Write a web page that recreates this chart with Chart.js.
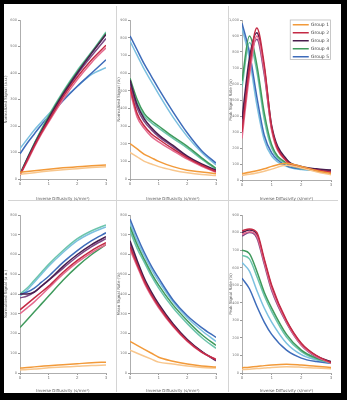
<!DOCTYPE html>
<html><head><meta charset="utf-8">
<script src="https://cdn.jsdelivr.net/npm/chart.js@4/dist/chart.umd.min.js"></script>
<style>
html,body{margin:0;padding:0;background:#000;width:347px;height:400px;overflow:hidden}
#frame{position:absolute;left:4px;top:4px;width:337px;height:389px;background:#fff}
.cell{position:absolute}
.vsep{position:absolute;width:1px;background:#d4d4d4}
.hsep{position:absolute;height:1px;background:#d4d4d4}
</style></head><body>
<div id="frame"></div>
<div class="vsep" style="left:116px;top:6px;height:386px"></div>
<div class="vsep" style="left:228px;top:6px;height:386px"></div>
<div class="hsep" style="left:8px;top:200px;width:330px"></div>
<div class="cell" style="left:4px;top:4px"><canvas id="c1" width="113" height="197"></canvas></div>
<div class="cell" style="left:117px;top:4px"><canvas id="c2" width="112" height="197"></canvas></div>
<div class="cell" style="left:229px;top:4px"><canvas id="c3" width="112" height="197"></canvas></div>
<div class="cell" style="left:4px;top:201px"><canvas id="c4" width="113" height="192"></canvas></div>
<div class="cell" style="left:117px;top:201px"><canvas id="c5" width="112" height="192"></canvas></div>
<div class="cell" style="left:229px;top:201px"><canvas id="c6" width="112" height="192"></canvas></div>
<script>
// shared x positions (inverse diffusivity)
const xVals = [0, 0.25, 0.5, 0.75, 1, 1.5, 2, 2.5, 3];
const groupLabels = ['Group 1', 'Group 2', 'Group 3', 'Group 4', 'Group 5'];
const xTitle = 'Inverse Diffusivity (s/mm²)';
const yTitles = ['Normalized Signal (a.u.)', 'Normalized Signal (%)', 'Peak Signal Rate (%)',
                 'Normalized Signal (a.u.)', 'Mean Signal Rate (%)', 'Peak Signal Rate (%)'];

// Panel 1 (top left)
const p1_g1a = [25, 28, 31, 34, 37, 42, 46, 50, 53];
const p1_g1b = [18, 21, 24, 27, 30, 35, 39, 43, 46];
const p1_g2a = [15, 70, 125, 175, 220, 310, 385, 450, 505];
const p1_g2b = [15, 65, 120, 170, 215, 300, 375, 440, 495];
const p1_g3a = [15, 75, 130, 180, 230, 320, 400, 475, 545];
const p1_g3b = [15, 72, 128, 178, 225, 315, 395, 465, 530];
const p1_g4a = [18, 76, 133, 185, 235, 325, 405, 478, 550];
const p1_g4b = [20, 78, 135, 188, 240, 330, 410, 480, 555];
const p1_g5a = [95, 135, 170, 205, 235, 295, 350, 400, 450];
const p1_g5b = [115, 150, 185, 215, 245, 300, 350, 395, 420];

// Panel 2 (top middle)
const p2_g1a = [200, 170, 140, 120, 100, 70, 50, 40, 30];
const p2_g1b = [150, 125, 100, 85, 70, 50, 35, 25, 20];
const p2_g2a = [520, 370, 300, 255, 225, 170, 120, 78, 42];
const p2_g2b = [500, 350, 285, 240, 210, 160, 112, 72, 38];
const p2_g3a = [560, 420, 340, 290, 250, 190, 130, 85, 50];
const p2_g3b = [540, 400, 325, 278, 240, 182, 125, 80, 46];
const p2_g4a = [570, 450, 370, 330, 300, 240, 185, 120, 60];
const p2_g4b = [545, 430, 355, 318, 288, 230, 175, 112, 55];
const p2_g5a = [810, 730, 650, 580, 510, 380, 260, 160, 90];
const p2_g5b = [780, 700, 620, 550, 480, 350, 240, 150, 80];

// Panel 3 (top right)
const p3_g1a = [40, 48, 58, 70, 85, 105, 85, 60, 40];
const p3_g1b = [30, 36, 44, 55, 68, 92, 75, 52, 32];
const p3_g2a = [300, 700, 950, 720, 330, 120, 80, 62, 50];
const p3_g2b = [260, 650, 900, 680, 310, 115, 76, 58, 46];
const p3_g3a = [380, 760, 920, 700, 340, 130, 85, 70, 62];
const p3_g3b = [340, 720, 880, 660, 320, 125, 82, 66, 58];
const p3_g4a = [620, 900, 720, 420, 220, 105, 75, 62, 55];
const p3_g4b = [580, 860, 680, 380, 200, 100, 72, 60, 52];
const p3_g5a = [980, 800, 520, 280, 170, 90, 70, 65, 60];
const p3_g5b = [950, 760, 470, 250, 150, 85, 65, 60, 55];

// Panel 4 (bottom left)
const p4_g1a = [25, 28, 31, 34, 37, 42, 47, 52, 55];
const p4_g1b = [15, 18, 20, 23, 26, 30, 34, 38, 40];
const p4_g2a = [320, 350, 380, 410, 440, 510, 570, 620, 660];
const p4_g2b = [300, 330, 360, 395, 430, 500, 560, 610, 650];
const p4_g3a = [400, 400, 410, 440, 470, 540, 600, 650, 690];
const p4_g3b = [380, 390, 410, 440, 470, 530, 590, 640, 680];
const p4_g4a = [230, 270, 310, 350, 390, 470, 540, 600, 650];
const p4_g4b = [400, 430, 470, 510, 550, 620, 680, 720, 750];
const p4_g5a = [400, 410, 430, 460, 490, 560, 620, 670, 710];
const p4_g5b = [390, 420, 460, 500, 540, 610, 670, 710, 740];

// Panel 5 (bottom middle)
const p5_g1a = [160, 140, 120, 100, 80, 60, 45, 35, 30];
const p5_g1b = [115, 100, 85, 70, 55, 45, 35, 28, 25];
const p5_g2a = [640, 550, 465, 395, 338, 240, 163, 106, 68];
const p5_g2b = [625, 540, 455, 388, 330, 235, 160, 104, 70];
const p5_g3a = [670, 570, 480, 410, 350, 250, 170, 110, 65];
const p5_g3b = [655, 560, 470, 400, 342, 245, 166, 108, 62];
const p5_g4a = [740, 650, 575, 505, 445, 345, 265, 195, 140];
const p5_g4b = [720, 630, 560, 490, 430, 330, 250, 180, 125];
const p5_g5a = [780, 690, 610, 540, 480, 370, 290, 230, 180];
const p5_g5b = [760, 670, 595, 525, 465, 360, 280, 215, 160];

// Panel 6 (bottom right)
const p6_g1a = [30, 33, 37, 42, 46, 50, 45, 38, 32];
const p6_g1b = [20, 22, 25, 28, 32, 36, 33, 28, 24];
const p6_g2a = [810, 820, 800, 650, 500, 300, 170, 100, 60];
const p6_g2b = [790, 805, 780, 630, 480, 290, 160, 95, 55];
const p6_g3a = [800, 815, 790, 640, 490, 295, 165, 98, 65];
const p6_g3b = [780, 800, 770, 620, 470, 285, 158, 92, 62];
const p6_g4a = [700, 680, 580, 460, 370, 220, 130, 85, 60];
const p6_g4b = [670, 650, 550, 440, 350, 205, 122, 80, 58];
const p6_g5a = [540, 480, 380, 290, 220, 130, 85, 65, 55];
const p6_g5b = [630, 580, 470, 370, 290, 170, 105, 75, 55];

// y-axis ranges per panel
const yMax = [600, 900, 1000, 800, 800, 900];
const yStep = [100, 100, 100, 100, 100, 100];

const colorsA = ['#f29a3a', '#c42a44', '#4a1d4e', '#3f9a5c', '#3e6cba'];
const colorsB = ['#f8c68c', '#e56a8e', '#7e4a86', '#6cc4ac', '#7cc0e0'];

const panels = [
  [p1_g1a, p1_g1b, p1_g2a, p1_g2b, p1_g3a, p1_g3b, p1_g4a, p1_g4b, p1_g5a, p1_g5b],
  [p2_g1a, p2_g1b, p2_g2a, p2_g2b, p2_g3a, p2_g3b, p2_g4a, p2_g4b, p2_g5a, p2_g5b],
  [p3_g1a, p3_g1b, p3_g2a, p3_g2b, p3_g3a, p3_g3b, p3_g4a, p3_g4b, p3_g5a, p3_g5b],
  [p4_g1a, p4_g1b, p4_g2a, p4_g2b, p4_g3a, p4_g3b, p4_g4a, p4_g4b, p4_g5a, p4_g5b],
  [p5_g1a, p5_g1b, p5_g2a, p5_g2b, p5_g3a, p5_g3b, p5_g4a, p5_g4b, p5_g5a, p5_g5b],
  [p6_g1a, p6_g1b, p6_g2a, p6_g2b, p6_g3a, p6_g3b, p6_g4a, p6_g4b, p6_g5a, p6_g5b]
];

// layout: [yAxisWidth, rightPad, topPad, xAxisHeight]
const layouts = [
  [16, 11, 16, 22], [13, 13, 16, 22], [13, 10, 16, 21],
  [16, 11, 14, 20], [13, 13, 14, 20], [13, 10, 14, 20]
];

function legendExtent(lg) {
  let l = Infinity, t = Infinity, r = -Infinity, b = -Infinity;
  lg.legendHitBoxes.forEach(h => {
    l = Math.min(l, h.left); t = Math.min(t, h.top);
    r = Math.max(r, h.left + h.width); b = Math.max(b, h.top + h.height);
  });
  return {w: r - l, h: b - t};
}

const legendPlace = {
  id: 'legendPlace',
  afterLayout(chart) {
    const lg = chart.legend;
    if (!lg || !lg.options.display || !lg.legendHitBoxes.length) return;
    const pad = lg.options.labels.padding;
    const e = legendExtent(lg);
    lg.left = chart.chartArea.right - 2 - e.w - pad;
    lg.right = lg.left + lg.width;
    lg.top = chart.chartArea.top - 1;
    lg.bottom = lg.top + lg.height;
  },
  afterDraw(chart) {
    const lg = chart.legend;
    if (!lg || !lg.options.display || !lg.legendHitBoxes.length) return;
    const pad = lg.options.labels.padding;
    const e = legendExtent(lg);
    const x0 = lg.left + pad, y0 = lg.top + pad;
    const ctx = chart.ctx;
    ctx.save();
    ctx.strokeStyle = '#bbbbbb';
    ctx.lineWidth = 0.8;
    ctx.strokeRect(x0 - 2.5, y0 - 2.5, e.w + 4, e.h + 3);
    ctx.restore();
  }
};

panels.forEach((series, pi) => {
  const [yw, rp, tp, xh] = layouts[pi];
  const datasets = series.map((vals, si) => {
    const g = Math.floor(si / 2);
    const col = si % 2 === 0 ? colorsA[g] : colorsB[g];
    return {
      label: groupLabels[g],
      data: vals.map((v, i) => ({x: xVals[i], y: v})),
      borderColor: col,
      backgroundColor: col,
      borderWidth: 1.5,
      pointRadius: 0,
      pointStyle: 'line',
      cubicInterpolationMode: 'monotone',
      fill: false
    };
  });
  const showLegend = pi === 2;
  new Chart(document.getElementById('c' + (pi + 1)), {
    type: 'line',
    data: {datasets},
    plugins: [legendPlace],
    options: {
      responsive: false,
      animation: false,
      layout: {padding: {left: 0, right: rp, top: tp, bottom: 0}},
      plugins: {
        tooltip: {enabled: false},
        legend: {
          display: showLegend,
          position: 'chartArea',
          align: 'start',
          labels: {
            filter: (item) => item.datasetIndex % 2 === 0,
            usePointStyle: true,
            pointStyle: 'line',
            pointStyleWidth: 16,
            boxHeight: 4,
            padding: 3.5,
            font: {size: 4.5, family: 'DejaVu Sans'},
            color: '#444'
          }
        }
      },
      scales: {
        x: {
          type: 'linear', min: 0, max: 3,
          ticks: {stepSize: 1, font: {size: 4, family: 'DejaVu Sans'}, color: '#777', padding: 1},
          grid: {drawOnChartArea: false, tickLength: 2, color: '#999'},
          border: {color: '#999', width: 0.8},
          title: {display: true, text: xTitle, font: {size: 4, family: 'DejaVu Sans'}, color: '#555', padding: {top: 2, bottom: 0}},
          afterFit(s) { s.height = xh; }
        },
        y: {
          min: 0, max: yMax[pi],
          ticks: {stepSize: yStep[pi], font: {size: 3.5, family: 'DejaVu Sans'}, color: '#777', padding: 1},
          grid: {drawOnChartArea: false, tickLength: 2, color: '#999'},
          border: {color: '#999', width: 0.8},
          title: {display: true, text: yTitles[pi], font: {size: 4, family: 'DejaVu Sans'}, color: '#555', padding: 0},
          afterFit(s) { s.width = yw; }
        }
      }
    }
  });
});
</script>
</body></html>
